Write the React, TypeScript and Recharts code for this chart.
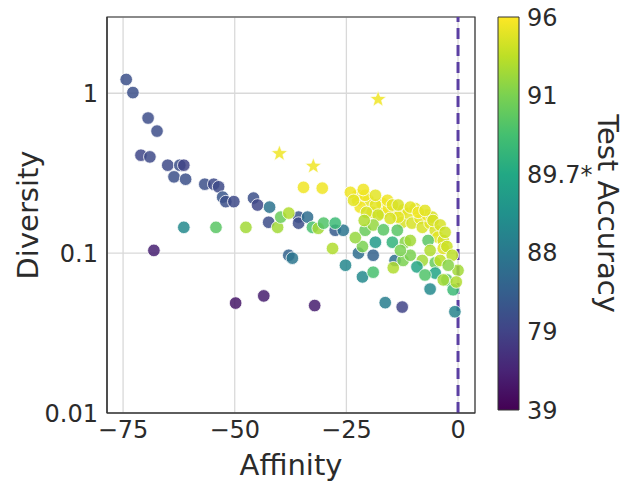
import React from 'react';
import { ScatterChart, Scatter, XAxis, YAxis, CartesianGrid, ReferenceLine, ReferenceArea, BarChart, Bar } from 'recharts';

// circles: affinity (x), diversity (y, log), test accuracy (colour)
const affinity = [
  -74.3, -72.8, -69.4, -67.4, -71.0, -69.0, -65.0, -62.3, -61.4, -63.6,
  -61.0, -56.7, -54.7, -53.6, -52.7, -52.0, -50.2, -45.8, -44.9, -42.2,
  -42.4, -35.7, -35.7, -33.7, -27.5, -25.7, -37.9, -37.1, -25.2, -22.3,
  -19.0, -21.4, -19.0, -14.1, -14.5, -12.3, -16.3, -12.5, -32.1, -49.8,
  -43.5, -68.1, -61.4, -54.2, -47.5, -40.4, -39.7, -37.9, -32.6, -31.3,
  -30.1, -27.5, -28.1, -34.6, -30.4, -6.25, -0.7,
  -22.5, -22.5, -20.1, -21.9, -19.2, -17.0, -17.0, -14.1, -12.3, -12.5,
  -11.2, -10.3, -8.5, -8.0, -6.25, -5.1, -4.5, -3.3, -3.3, -20.8,
  -18.5, -15.6, -13.4, -9.6, -6.9, -5.8, -2.5, -15.2,
  -24.1, -23.4, -21.2, -18.5, -15.8, -14.7, -13.4, -10.7, -8.9, -7.4,
  -5.6, -4.0, -2.9, -20.5, -17.9,
  -20.8, -19.0, -13.6, -18.5, -14.7, -11.8, -6.7, -10.7, -10.7, -8.0,
  -9.2, -5.1, -5.1, -2.5, -1.1, 0.0, -0.4, -21.0, -1.3, -3.3, -21.4,
  -16.7, -12.9, -6.25, -4.0, -2.2, -7.4, -23.0,
];
const diversity = [
  1.22, 1.01, 0.70, 0.58, 0.41, 0.40, 0.355, 0.355, 0.355, 0.30,
  0.29, 0.27, 0.27, 0.26, 0.224, 0.21, 0.21, 0.221, 0.20, 0.194,
  0.156, 0.168, 0.154, 0.168, 0.139, 0.139, 0.097, 0.093, 0.084, 0.10,
  0.097, 0.071, 0.076, 0.090, 0.081, 0.090, 0.049, 0.046, 0.047, 0.0487,
  0.054, 0.104, 0.145, 0.145, 0.145, 0.145, 0.168, 0.178, 0.145, 0.143,
  0.154, 0.154, 0.107, 0.258, 0.255, 0.0596, 0.043,
  0.23, 0.214, 0.214, 0.194, 0.18, 0.205, 0.178, 0.18, 0.186, 0.156,
  0.178, 0.154, 0.165, 0.145, 0.154, 0.139, 0.126, 0.12, 0.107, 0.23,
  0.20, 0.19, 0.168, 0.19, 0.173, 0.168, 0.11, 0.165,
  0.24, 0.214, 0.25, 0.23, 0.214, 0.20, 0.20, 0.194, 0.18, 0.185,
  0.16, 0.15, 0.135, 0.18, 0.173,
  0.139, 0.15, 0.139, 0.117, 0.117, 0.117, 0.12, 0.12, 0.097, 0.090,
  0.082, 0.087, 0.075, 0.068, 0.059, 0.078, 0.066, 0.16, 0.097, 0.068, 0.11,
  0.14, 0.104, 0.104, 0.09, 0.084, 0.073, 0.125,
];
const accuracy = [
  81, 81, 80.5, 80.5, 79.5, 80, 80, 81, 78, 81,
  81, 81, 80, 80, 82, 81, 80, 81, 79.5, 87,
  80.5, 82, 80.5, 86, 83, 87.5, 84, 87.5, 88.5, 86,
  84, 88.6, 90.4, 86.5, 93, 91, 88.2, 79, 55, 52,
  55, 57, 88.6, 90.6, 92.5, 92.5, 90.8, 93, 90.4, 92.5,
  90.5, 90.2, 93, 95.5, 95.5, 88.6, 88.4,
  95, 95.5, 95, 95.5, 95, 95.5, 95, 95, 95.5, 94.5,
  95, 94.5, 95, 94.5, 95, 94.5, 95, 94.5, 95, 95.5,
  95, 95.5, 95, 95, 95.5, 94.5, 94, 94.5,
  95.5, 95, 95.5, 95, 95.5, 95, 94.5, 95, 95.5, 95,
  94.5, 94.5, 94, 94.5, 94,
  90.8, 92, 90.6, 89.2, 90, 91.5, 90.6, 92.5, 91, 92.5,
  89.6, 90.8, 89.6, 90.6, 90.2, 92.5, 93, 93, 93.5, 92.5, 91,
  90.6, 91, 93, 93.5, 91.5, 90.5, 92,
];

// stars
const starAffinity = [-40.0, -32.4, -17.9];
const starDiversity = [0.42, 0.35, 0.917];
const starAccuracy = [95.5, 95.5, 95.5];

const xTicks = [-75, -50, -25, 0];
const yTicks = [0.01, 0.1, 1];
const cbTicks = [39, 79, 88, 89.7, 91, 96];
const cbLabels = ['39', '79', '88', '89.7*', '91', '96'];

const viridis = ['#440154', '#482475', '#414487', '#355f8d', '#2a788e', '#21918c', '#22a884', '#44bf70', '#7ad151', '#bddf26', '#fde725'];

const points = affinity.map((x, i) => ({ x, y: diversity[i], acc: accuracy[i] }));
const stars = starAffinity.map((x, i) => ({ x, y: starDiversity[i], acc: starAccuracy[i] }));

const accToT = (a: number) => {
  for (let i = 0; i < cbTicks.length - 1; i++) {
    if (a <= cbTicks[i + 1]) return Math.max(0, (i + (a - cbTicks[i]) / (cbTicks[i + 1] - cbTicks[i])) / (cbTicks.length - 1));
  }
  return 1;
};

const hex = (h: string) => [1, 3, 5].map((k) => parseInt(h.slice(k, k + 2), 16));
const colorOf = (a: number) => {
  const t = accToT(a) * (viridis.length - 1);
  const i = Math.min(Math.floor(t), viridis.length - 2);
  const f = t - i;
  const c0 = hex(viridis[i]);
  const c1 = hex(viridis[i + 1]);
  const c = c0.map((v, k) => Math.round(v + (c1[k] - v) * f));
  return `rgb(${c[0]},${c[1]},${c[2]})`;
};

const FONT = 'DejaVu Sans';
const INK = '#2b2b2b';

const Dot = (props: any) => {
  const { cx, cy, payload } = props;
  return <circle cx={cx} cy={cy} r={6.3} fill={colorOf(payload.acc)} fillOpacity={0.85} stroke="#fff" strokeWidth={0.8} />;
};

const Star = (props: any) => {
  const { cx, cy, payload } = props;
  const pts = [];
  for (let k = 0; k < 10; k++) {
    const r = k % 2 === 0 ? 8.5 : 3.6;
    const a = -Math.PI / 2 + (k * Math.PI) / 5;
    pts.push(`${cx + r * Math.cos(a)},${cy + r * Math.sin(a)}`);
  }
  return <polygon points={pts.join(' ')} fill={colorOf(payload.acc)} fillOpacity={0.85} stroke="#fff" strokeWidth={0.6} />;
};

const fmtX = (v: number) => String(v).replace('-', '\u2212');
const fmtY = (v: number) => String(v);

const App = () => {
  return (
    <div style={{ position: 'absolute', left: 0, top: 0, width: 624, height: 482, background: '#fff', fontFamily: FONT }}>
      <div style={{ position: 'absolute', left: 0, top: 0 }}>
        <ScatterChart width={484} height={482} margin={{ top: 17, right: 9, bottom: 29, left: 47 }}>
          <CartesianGrid stroke="#d9d9d9" strokeWidth={1.3} />
          <XAxis
            type="number"
            dataKey="x"
            domain={[-78.6, 3.8]}
            ticks={xTicks}
            tickFormatter={fmtX}
            allowDataOverflow
            height={40}
            tickLine={false}
            tickSize={0}
            tickMargin={8}
            axisLine={{ stroke: '#333', strokeWidth: 1.2 }}
            tick={{ fill: INK, fontSize: 24, fontFamily: FONT }}
            label={{
              content: (p: any) => (
                <text x={p.viewBox.x + p.viewBox.width / 2} y={475} textAnchor="middle" fill={INK} fontSize={29} fontFamily={FONT}>
                  Affinity
                </text>
              ),
            }}
          />
          <YAxis
            type="number"
            dataKey="y"
            scale="log"
            domain={[0.01, 3]}
            ticks={yTicks}
            tickFormatter={fmtY}
            allowDataOverflow
            width={60}
            tickLine={false}
            tickSize={0}
            tickMargin={9}
            axisLine={{ stroke: '#333', strokeWidth: 1.2 }}
            tick={{ fill: INK, fontSize: 24, fontFamily: FONT }}
            label={{
              content: (p: any) => {
                const cx = 38;
                const cy = p.viewBox.y + p.viewBox.height / 2;
                return (
                  <text x={cx} y={cy} transform={`rotate(-90, ${cx}, ${cy})`} textAnchor="middle" fill={INK} fontSize={29} fontFamily={FONT}>
                    Diversity
                  </text>
                );
              },
            }}
          />
          <ReferenceArea x1={-78.6} x2={3.8} y1={0.01} y2={3} fill="none" stroke="#333" strokeWidth={1.2} ifOverflow="visible" />
          <Scatter data={points} shape={Dot} isAnimationActive={false} />
          <Scatter data={stars} shape={Star} isAnimationActive={false} />
          <ReferenceLine x={0} stroke="#5b3fa3" strokeWidth={3} strokeDasharray="11 6" />
        </ScatterChart>
      </div>
      <div style={{ position: 'absolute', left: 484, top: 0 }}>
        <BarChart width={140} height={482} data={[{ name: 'cb', v: cbTicks.length - 1 }]} margin={{ top: 17, right: 0, bottom: 72, left: 14 }} barCategoryGap={0}>
          <defs>
            <linearGradient id="viridisGrad" x1="0" y1="1" x2="0" y2="0">
              {viridis.map((c, i) => (
                <stop key={i} offset={`${(i / (viridis.length - 1)) * 100}%`} stopColor={c} />
              ))}
            </linearGradient>
          </defs>
          <XAxis dataKey="name" hide />
          <YAxis
            orientation="right"
            type="number"
            domain={[0, cbTicks.length - 1]}
            ticks={cbTicks.map((_, i) => i)}
            tickFormatter={(v: number) => cbLabels[v]}
            width={105}
            axisLine={false}
            tickLine={false}
            tickSize={0}
            tickMargin={8}
            tick={{ fill: INK, fontSize: 24, fontFamily: FONT, textAnchor: 'start' }}
            label={{
              content: (p: any) => {
                const cx = 598 - 484;
                const cy = p.viewBox.y + p.viewBox.height / 2;
                return (
                  <text x={cx} y={cy} transform={`rotate(90, ${cx}, ${cy})`} textAnchor="middle" fill={INK} fontSize={29} fontFamily={FONT}>
                    Test Accuracy
                  </text>
                );
              },
            }}
          />
          <Bar dataKey="v" fill="url(#viridisGrad)" stroke="#333" strokeWidth={1} isAnimationActive={false} />
        </BarChart>
      </div>
    </div>
  );
};

export default App;
